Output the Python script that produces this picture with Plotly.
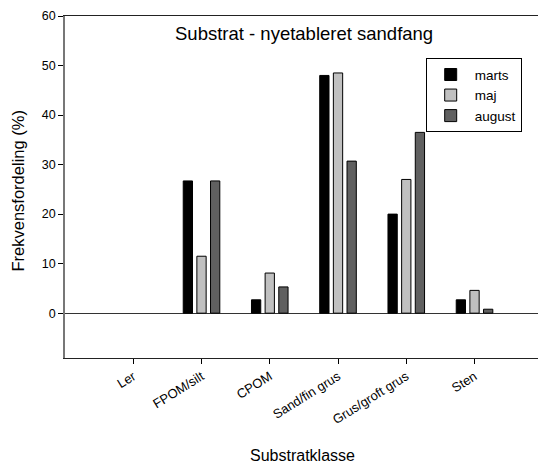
import plotly.graph_objects as go

categories = ["Ler", "FPOM/silt", "CPOM", "Sand/fin grus", "Grus/groft grus", "Sten"]
marts = [0, 26.7, 2.7, 48.0, 20.0, 2.7]
maj = [0, 11.5, 8.1, 48.5, 27.0, 4.6]
august = [0, 26.7, 5.3, 30.7, 36.5, 0.8]
series_names = ["marts", "maj", "august"]
series_colors = ["#000000", "#c0c0c0", "#606060"]

W, H = 538, 463
L, T, B = 65, 15.7, 104.7

fig = go.Figure()
for name, vals, col in zip(series_names, [marts, maj, august], series_colors):
    # zero-height bars are not drawn (no outline), as in the original
    xs = [i for i, v in enumerate(vals) if v != 0]
    ys = [v for v in vals if v != 0]
    fig.add_trace(go.Bar(
        x=xs, y=ys, name=name,
        marker=dict(color=col, line=dict(color="#000000", width=1)),
    ))

fig.update_layout(
    width=W, height=H,
    margin=dict(l=L, r=0, t=T, b=B, pad=0),
    paper_bgcolor="white", plot_bgcolor="white",
    barmode="group", bargap=0.4, bargroupgap=0.32,
    font=dict(family="Liberation Sans, Arial, sans-serif", color="#000000"),
    showlegend=True,
    legend=dict(
        x=(425.7 - L) / (W - L), y=(358.3 - 58) / (H - T - B),
        xanchor="left", yanchor="top",
        bordercolor="#000000", borderwidth=1, bgcolor="white",
        font=dict(size=13.5), tracegroupgap=0, itemwidth=38,
    ),
    xaxis=dict(
        range=[-1, 5.93], tickmode="array",
        tickvals=list(range(len(categories))), ticktext=categories,
        tickangle=-32, ticks="outside", ticklen=5, tickcolor="#000000",
        showline=True, linecolor="#222222", linewidth=1, mirror=True,
        showgrid=False, zeroline=False, tickfont=dict(size=13),
    ),
    yaxis=dict(
        range=[-9.05, 60], tickmode="array",
        tickvals=[0, 10, 20, 30, 40, 50, 60],
        ticks="outside", ticklen=5, tickcolor="#000000",
        showline=True, linecolor="#777777", linewidth=1.5,
        showgrid=False, zeroline=True, zerolinecolor="#333333", zerolinewidth=1,
        tickfont=dict(size=12.5),
    ),
    annotations=[
        dict(text="Substrat - nyetableret sandfang", xref="paper", yref="paper",
             x=(303.5 - L) / (W - L), y=(358.3 - 33) / (H - T - B),
             xanchor="center", yanchor="middle", showarrow=False,
             font=dict(size=18.5)),
        dict(text="Frekvensfordeling (%)", xref="paper", yref="paper",
             x=(18 - L) / (W - L), y=(358.3 - 191.5) / (H - T - B),
             xanchor="center", yanchor="middle", showarrow=False, textangle=-90,
             font=dict(size=16.5)),
        dict(text="Substratklasse", xref="paper", yref="paper",
             x=(302.5 - L) / (W - L), y=(358.3 - 455.5) / (H - T - B),
             xanchor="center", yanchor="middle", showarrow=False,
             font=dict(size=16)),
    ],
)

fig.write_html("out.html")
